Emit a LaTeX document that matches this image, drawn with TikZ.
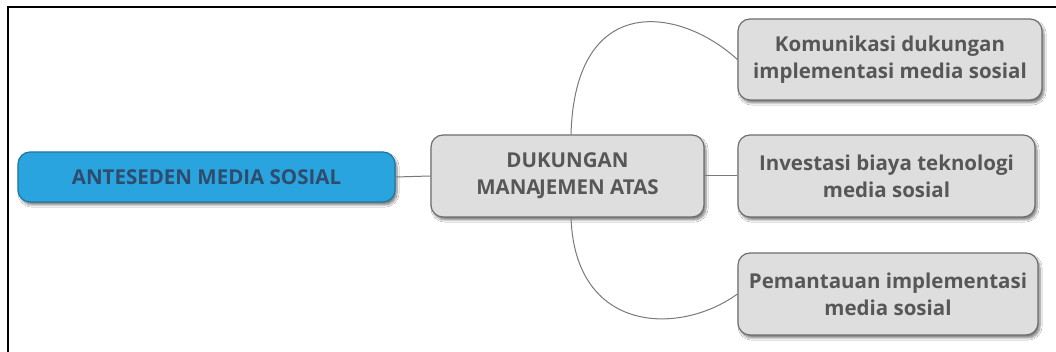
\documentclass[tikz,border=0pt]{standalone}
\usepackage{fontspec}
\setmainfont{Open Sans}
\usetikzlibrary{shadows.blur}
\definecolor{boxfill}{HTML}{DEDEDE}
\definecolor{boxline}{HTML}{6E6E6E}
\definecolor{boxtext}{HTML}{575757}
\definecolor{rootfill}{HTML}{2AA4DE}
\definecolor{rootline}{HTML}{1E77A3}
\definecolor{roottext}{HTML}{2E4C6E}
\definecolor{linkgray}{HTML}{7A7A7A}
\tikzset{
  topic/.style={draw=boxline, line width=1.2pt, fill=boxfill, rounded corners=12pt,
    align=center, text=boxtext, font=\fontsize{20.5}{27}\selectfont\bfseries,
    inner sep=0pt, blur shadow={shadow xshift=2pt, shadow yshift=-3pt, shadow blur steps=6, shadow opacity=50}},
  root/.style={topic, draw=rootline, fill=rootfill, text=roottext},
  link/.style={draw=linkgray, line width=1pt}
}
\begin{document}
\begin{tikzpicture}[x=1pt,y=1pt]
\useasboundingbox (0,0) rectangle (1056,352);
\fill[white] (0,0) rectangle (1056,352);
% page frame (top and left edges)
\draw[line width=2pt] (8,0) -- (8,345) -- (1056,345);

\node[root, minimum width=377pt, minimum height=50pt] (root) at (206.5,175) {ANTESEDEN MEDIA SOSIAL};
\node[topic, minimum width=273pt, minimum height=82pt] (mid) at (567.5,176) {DUKUNGAN\\MANA\kern-1.5pt JEMEN ATAS};
\node[topic, minimum width=304pt, minimum height=81pt] (a) at (890,292.5) {Komunikasi dukungan\\implementasi media sosial};
\node[topic, minimum width=297pt, minimum height=82pt] (b) at (886.5,176) {Investasi biaya teknologi\\media sosial};
\node[topic, minimum width=300pt, minimum height=82pt] (c) at (888,58) {Pemantauan implementasi\\media sosial};

% connectors
\draw[link] (root.east) -- (mid.west);
\draw[link] (mid.east) -- (b.west);
\draw[link] ([xshift=3.5pt]mid.north) .. controls +(4,143) and +(-58,53) .. (a.west);
\draw[link] ([xshift=3.5pt]mid.south) .. controls +(4,-116) and +(-58,-42) .. (c.west);
\end{tikzpicture}
\end{document}
